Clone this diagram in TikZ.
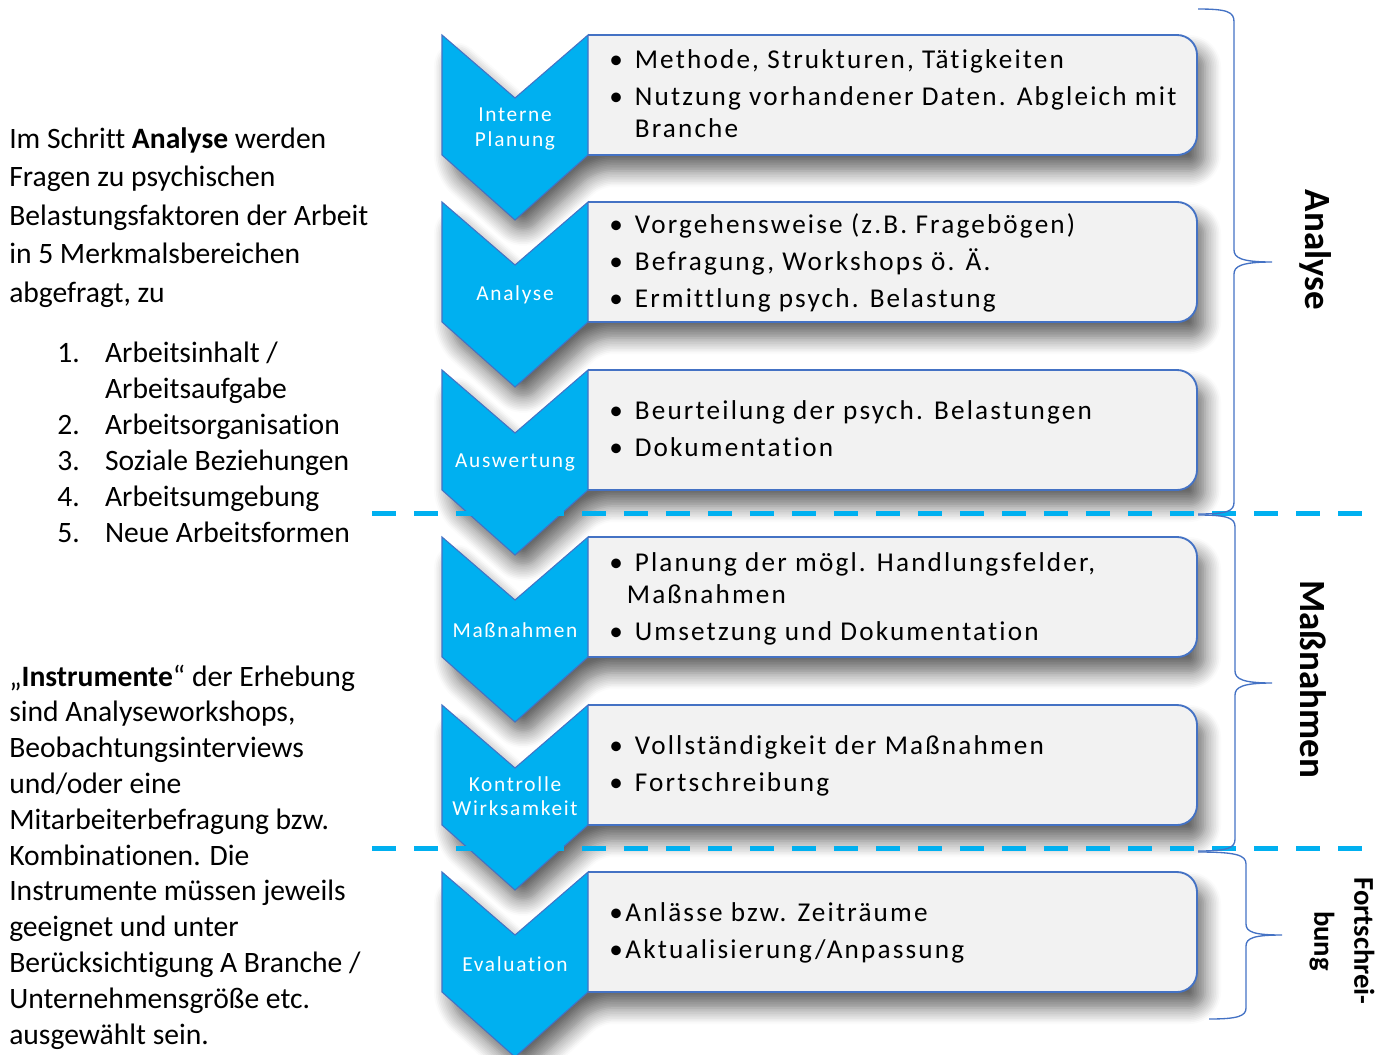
\documentclass[tikz,border=0pt]{standalone}
\usepackage{fontspec}
\setmainfont{Carlito}[Ligatures=NoCommon]
\newfontfamily\stepfont[LetterSpace=8,Ligatures=NoCommon]{Carlito}
\newfontfamily\itemfont[LetterSpace=8,Ligatures=NoCommon]{Carlito}
\usepackage{tikz}
\usetikzlibrary{positioning,shadows.blur}

\definecolor{chevblue}{HTML}{00B0F0}
\definecolor{edgeblue}{HTML}{4472C4}
\definecolor{boxgray}{HTML}{F2F2F2}

\tikzset{
  softshadow/.style={rounded corners=12pt,blur shadow={shadow xshift=6pt,shadow yshift=-12pt,shadow blur radius=12pt,shadow blur steps=10,shadow opacity=60}},
  chevron/.style={fill=chevblue,draw=edgeblue,line width=0.8pt},
  itembox/.style={fill=boxgray,draw=edgeblue,line width=1.4pt,rounded corners=15pt},
  steplabel/.style={text=white,inner sep=0pt,align=center,font=\stepfont\fontsize{16}{18.5}\selectfont},
  itemlist/.style={anchor=base west,inner sep=0pt,font=\itemfont\fontsize{20.4}{24}\selectfont},
  sidetext/.style={anchor=base west,inner sep=0pt},
  phaseline/.style={draw=chevblue,line width=3.75pt,dash pattern=on 18pt off 13.5pt},
  phasebrace/.style={draw=edgeblue,line width=1pt},
  phaselabel/.style={rotate=-90,inner sep=0pt,align=center}
}

\begin{document}
\begin{tikzpicture}[x=0.75pt,y=-0.75pt]
  \useasboundingbox (0,0) rectangle (1377,1054);

  % steps: shadow of chevron+box, then box, then chevron
  \path[softshadow] (442,35) -- (515,98) -- (588,35) -- (1197,35) -- (1197,155) -- (588,155) -- (515,220) -- (442,155) -- cycle;
  \path[itembox] (588,35) -- (1197,35) -- (1197,155) -- (588,155);
  \path[chevron] (442,35) -- (515,98) -- (588,35) -- (588,155) -- (515,220) -- (442,155) -- cycle;
  \node[steplabel] (planung) at (515,129) {Interne\\Planung};
  \node[itemlist] (planungitems) at (609,68) {\begin{tabular}[t]{@{}l@{\hspace{9pt}}l@{}}
    \textbullet & Methode, Strukturen, Tätigkeiten\\[3.75pt]
    \textbullet & Nutzung vorhandener Daten. Abgleich mit\\
    & Branche\end{tabular}};

  \path[softshadow] (442,202) -- (515,265) -- (588,202) -- (1197,202) -- (1197,322) -- (588,322) -- (515,387) -- (442,322) -- cycle;
  \path[itembox] (588,202) -- (1197,202) -- (1197,322) -- (588,322);
  \path[chevron] (442,202) -- (515,265) -- (588,202) -- (588,322) -- (515,387) -- (442,322) -- cycle;
  \node[steplabel] (analyse) at (515,295) {Analyse};
  \node[itemlist] (analyseitems) at (609,233) {\begin{tabular}[t]{@{}l@{\hspace{9pt}}l@{}}
    \textbullet & Vorgehensweise (z.B. Fragebögen)\\[3.75pt]
    \textbullet & Befragung, Workshops ö. Ä.\\[3.75pt]
    \textbullet & Ermittlung psych. Belastung\end{tabular}};

  \path[softshadow] (442,370) -- (515,433) -- (588,370) -- (1197,370) -- (1197,490) -- (588,490) -- (515,555) -- (442,490) -- cycle;
  \path[itembox] (588,370) -- (1197,370) -- (1197,490) -- (588,490);
  \path[chevron] (442,370) -- (515,433) -- (588,370) -- (588,490) -- (515,555) -- (442,490) -- cycle;
  \node[steplabel] (auswertung) at (515,462) {Auswertung};
  \node[itemlist] (auswertungitems) at (609,419) {\begin{tabular}[t]{@{}l@{\hspace{9pt}}l@{}}
    \textbullet & Beurteilung der psych. Belastungen\\[3.75pt]
    \textbullet & Dokumentation\end{tabular}};

  \path[softshadow] (442,537) -- (515,600) -- (588,537) -- (1197,537) -- (1197,657) -- (588,657) -- (515,722) -- (442,657) -- cycle;
  \path[itembox] (588,537) -- (1197,537) -- (1197,657) -- (588,657);
  \path[chevron] (442,537) -- (515,600) -- (588,537) -- (588,657) -- (515,722) -- (442,657) -- cycle;
  \node[steplabel] (massnahmen) at (515,630) {Maßnahmen};
  \node[itemlist] (massnahmenitems) at (609,571) {\begin{tabular}[t]{@{}l@{\hspace{9pt}}l@{}}
    \textbullet & Planung der mögl. Handlungsfelder,\\
    & \hspace{-6pt}Maßnahmen\\[3.75pt]
    \textbullet & Umsetzung und Dokumentation\end{tabular}};

  \path[softshadow] (442,705) -- (515,768) -- (588,705) -- (1197,705) -- (1197,825) -- (588,825) -- (515,890) -- (442,825) -- cycle;
  \path[itembox] (588,705) -- (1197,705) -- (1197,825) -- (588,825);
  \path[chevron] (442,705) -- (515,768) -- (588,705) -- (588,825) -- (515,890) -- (442,825) -- cycle;
  \node[steplabel] (kontrolle) at (515,796) {Kontrolle\\Wirksamkeit};
  \node[itemlist] (kontrolleitems) at (609,754) {\begin{tabular}[t]{@{}l@{\hspace{9pt}}l@{}}
    \textbullet & Vollständigkeit der Maßnahmen\\[3.75pt]
    \textbullet & Fortschreibung\end{tabular}};

  \path[softshadow] (442,872) -- (515,935) -- (588,872) -- (1197,872) -- (1197,992) -- (588,992) -- (515,1057) -- (442,992) -- cycle;
  \path[itembox] (588,872) -- (1197,872) -- (1197,992) -- (588,992);
  \path[chevron] (442,872) -- (515,935) -- (588,872) -- (588,992) -- (515,1057) -- (442,992) -- cycle;
  \node[steplabel] (evaluation) at (515,964) {Evaluation};
  \node[itemlist] (evaluationitems) at (609,921) {\begin{tabular}[t]{@{}l@{\hspace{2pt}}l@{}}
    \textbullet & Anlässe bzw. Zeiträume\\[3.75pt]
    \textbullet & Aktualisierung/Anpassung\end{tabular}};

  % phase borders
  \draw[phaseline] (372,513) -- (1365,513);
  \draw[phaseline] (372,848) -- (1365,848);

  % braces
  \draw[phasebrace] (1198,9) .. controls (1228,9) and (1234,12) .. (1234,22) -- (1234,250)
    .. controls (1234,258) and (1242,262) .. (1272,262) .. controls (1242,262) and (1234,266) .. (1234,274)
    -- (1234,502) .. controls (1234,511) and (1228,514) .. (1198,514);
  \draw[phasebrace] (1198,515) .. controls (1228,515) and (1235,518) .. (1235,527) -- (1235,671)
    .. controls (1235,679) and (1243,683) .. (1272,683) .. controls (1243,683) and (1235,687) .. (1235,695)
    -- (1235,839) .. controls (1235,848) and (1228,851) .. (1198,851);
  \draw[phasebrace] (1198,852) .. controls (1236,852) and (1246,855) .. (1246,864) -- (1246,924)
    .. controls (1246,932) and (1254,935) .. (1282,935) .. controls (1254,935) and (1246,938) .. (1246,946)
    -- (1246,1008) .. controls (1246,1016) and (1238,1019) .. (1209,1019);

  \node[phaselabel,font=\bfseries\fontsize{27.75}{33}\selectfont] (phaseanalyse) at (1316,250) {Analyse};
  \node[phaselabel,font=\bfseries\fontsize{27.75}{33}\selectfont] (phasemassnahmen) at (1313,679) {Maßnahmen};
  \node[phaselabel,font=\bfseries\fontsize{21.5}{30}\selectfont] (phasefort) at (1342,941) {Fortschrei-\\bung};

  % left texts
  \node[sidetext,font=\fontsize{22.2}{28.9}\selectfont] (intro) at (9,148) {\begin{tabular}[t]{@{}l@{}}
    Im Schritt \textbf{Analyse} werden\\
    Fragen zu psychischen\\
    Belastungsfaktoren der Arbeit\\
    in 5 Merkmalsbereichen\\
    abgefragt, zu\end{tabular}};
  \node[sidetext,font=\fontsize{22.2}{27}\selectfont] (bereiche) at (57,362) {\begin{tabular}[t]{@{}l@{\hspace{19pt}}l@{}}
    1. & Arbeitsinhalt /\\
       & Arbeitsaufgabe\\
    2. & Arbeitsorganisation\\
    3. & Soziale Beziehungen\\
    4. & Arbeitsumgebung\\
    5. & Neue Arbeitsformen\end{tabular}};
  \node[sidetext,font=\fontsize{22.2}{26.85}\selectfont] (instrumente) at (9,686) {\begin{tabular}[t]{@{}l@{}}
    „\textbf{Instrumente}“ der Erhebung\\
    sind Analyseworkshops,\\
    Beobachtungsinterviews\\
    und/oder eine\\
    Mitarbeiterbefragung bzw.\\
    Kombinationen. Die\\
    Instrumente müssen jeweils\\
    geeignet und unter\\
    Berücksichtigung A Branche /\\
    Unternehmensgröße etc.\\
    ausgewählt sein.\end{tabular}};
\end{tikzpicture}
\end{document}
